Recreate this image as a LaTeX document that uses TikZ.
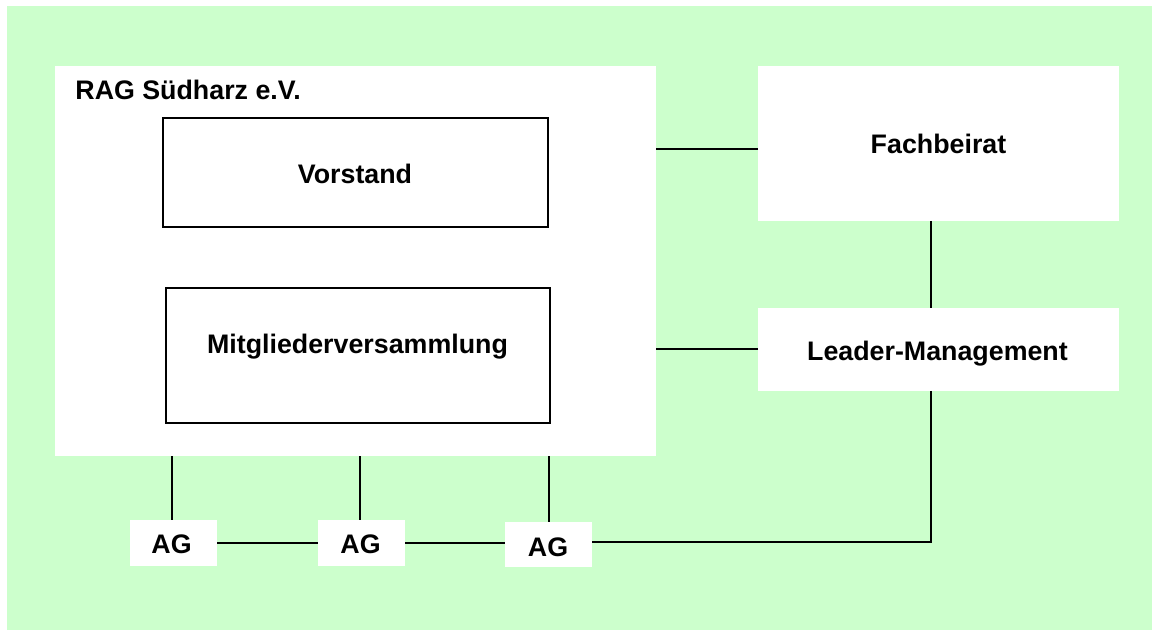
\documentclass[tikz,border=0pt]{standalone}
\usepackage{fontspec}
\setmainfont{Liberation Sans}
\definecolor{bggreen}{HTML}{CCFFCC}
\begin{document}
\begin{tikzpicture}[x=0.5pt,y=-0.5pt,
  wbox/.style={fill=white,draw=none,inner sep=0pt,outer sep=0pt,anchor=north west},
  obox/.style={fill=white,draw=black,line width=0.75pt,inner sep=0pt,outer sep=0pt,anchor=north west},
  lbl/.style={font=\bfseries\fontsize{13.4}{15}\selectfont,inner sep=0pt,anchor=base},
  conn/.style={draw=black,line width=1pt}]
\useasboundingbox (0,0) rectangle (1152,630);
\fill[bggreen] (7,6) rectangle (1152,630);
% boxes
\node[wbox,minimum width=300.5pt,minimum height=195pt] (rag) at (55,66) {};
\node[obox,minimum width=192.5pt,minimum height=54.5pt] (vor) at (163,118) {};
\node[obox,minimum width=192pt,minimum height=67.5pt] (mv) at (166,288) {};
\node[wbox,minimum width=180.5pt,minimum height=77.5pt] (fb) at (758,66) {};
\node[wbox,minimum width=180.5pt,minimum height=41.5pt] (lm) at (758,308) {};
\node[wbox,minimum width=43.5pt,minimum height=23pt] (ag1) at (130,520) {};
\node[wbox,minimum width=43.5pt,minimum height=23pt] (ag2) at (318,520) {};
\node[wbox,minimum width=43.5pt,minimum height=22.5pt] (ag3) at (505,522) {};
% texts
\node[lbl,anchor=base west] (ragt) at (75,100) {RAG Südharz e.V.};
\node[lbl] (vort) at (355,184) {Vorstand};
\node[lbl] (mvt) at (357.5,354) {Mitgliederversammlung};
\node[lbl] (fbt) at (938.5,154) {Fachbeirat};
\node[lbl] (lmt) at (937.5,361) {Leader-Management};
\node[lbl] (ag1t) at (171.5,554) {AG};
\node[lbl] (ag2t) at (360.5,554) {AG};
\node[lbl] (ag3t) at (548,557) {AG};
% connectors
\draw[conn] ([yshift=-2.75pt]fb.west) -- ([yshift=-2.75pt]fb.west -| rag.east);
\draw[conn] (lm.west) -- (lm.west -| rag.east);
\draw[conn] ([xshift=-3.75pt]fb.south) -- ([xshift=-3.75pt]fb.south |- lm.north);
\draw[conn] ([xshift=-3.75pt]lm.south) |- ([yshift=1.25pt]ag3.east);
\draw[conn] ([xshift=-0.75pt]ag1.north) -- ([xshift=-0.75pt]ag1.north |- rag.south);
\draw[conn] ([xshift=-0.75pt]ag2.north) -- ([xshift=-0.75pt]ag2.north |- rag.south);
\draw[conn] (ag3.north) -- (ag3.north |- rag.south);
\draw[conn] (ag1.east) -- (ag2.west);
\draw[conn] (ag2.east) -- (ag2.east -| ag3.west);
\end{tikzpicture}
\end{document}
